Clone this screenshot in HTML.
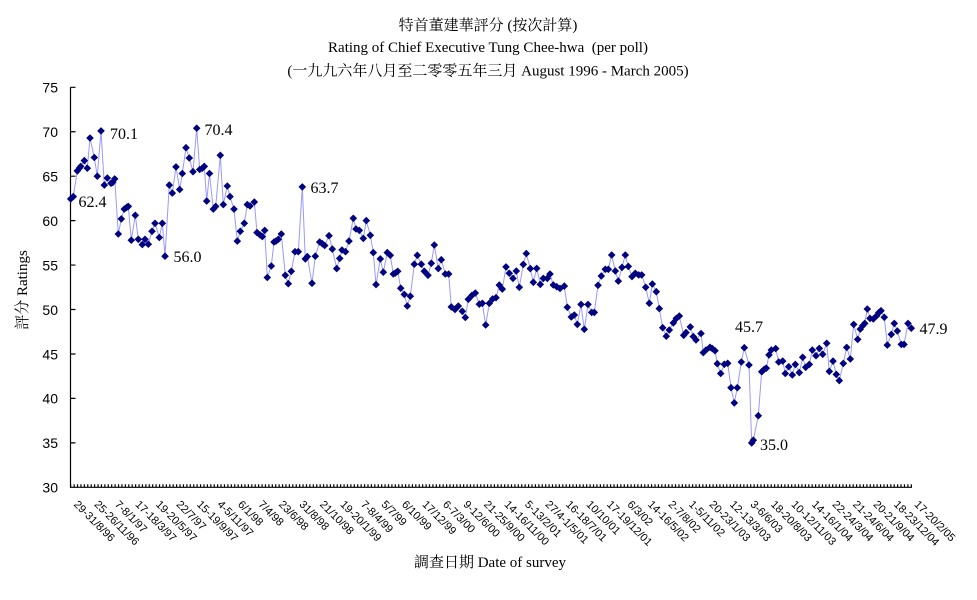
<!DOCTYPE html>
<html>
<head>
<meta charset="utf-8">
<style>
html,body{margin:0;padding:0;background:#fff;}
body{width:977px;height:600px;overflow:hidden;}
svg{display:block;}
.serif{font-family:"Liberation Serif","Noto Serif CJK SC",serif;}
.sans{font-family:"Liberation Sans","Noto Sans CJK TC",sans-serif;}
</style>
</head>
<body>
<svg id="chart" width="977" height="600" viewBox="0 0 977 600" xmlns="http://www.w3.org/2000/svg">
  <rect x="0" y="0" width="977" height="600" fill="#fff"/>
  <!-- titles -->
  <text class="serif" x="488" y="30" font-size="15" text-anchor="middle" fill="#000">特首董建華評分 (按次計算)</text>
  <text class="serif" x="488" y="52" font-size="15" text-anchor="middle" fill="#000">Rating of Chief Executive Tung Chee-hwa&#160; (per poll)</text>
  <text class="serif" x="488" y="75.5" font-size="15" text-anchor="middle" fill="#000">(一九九六年八月至二零零五年三月 August 1996 - March 2005)</text>

  <!-- y axis title -->
  <text class="serif" transform="translate(27,290) rotate(-90)" font-size="15" text-anchor="middle" fill="#000">評分 Ratings</text>
  <!-- x axis title -->
  <text class="serif" x="490" y="567" font-size="15" text-anchor="middle" fill="#000">調查日期 Date of survey</text>

  <!-- y tick labels -->
  <g class="sans" font-size="14" text-anchor="end" fill="#000">
    <text x="58" y="92.6">75</text>
    <text x="58" y="137.0">70</text>
    <text x="58" y="181.5">65</text>
    <text x="58" y="225.9">60</text>
    <text x="58" y="270.4">55</text>
    <text x="58" y="314.8">50</text>
    <text x="58" y="359.3">45</text>
    <text x="58" y="403.7">40</text>
    <text x="58" y="448.2">35</text>
    <text x="58" y="492.6">30</text>
  </g>

  <g id="axes" stroke="#000" fill="none"></g>
  <g id="series"></g>
  <g id="xlabels" class="sans" font-size="11" fill="#000"></g>

  <!-- data labels -->
  <g class="serif" font-size="16" fill="#000">
    <text x="78.5" y="207">62.4</text>
    <text x="110" y="139">70.1</text>
    <text x="173.5" y="262">56.0</text>
    <text x="204.5" y="135">70.4</text>
    <text x="310.5" y="193">63.7</text>
    <text x="735" y="332">45.7</text>
    <text x="760" y="450">35.0</text>
    <text x="919.5" y="334">47.9</text>
  </g>
</svg>
<script>
(function(){
  var NS="http://www.w3.org/2000/svg";
  function Y(v){return 87.3+(75-v)*8.8889;}
  var axes=document.getElementById('axes');
  // y axis
  var d="M70.5 87.3 L70.5 487.8 M70 487.3 L912 487.3";
  for(var t=30;t<=75;t+=5){var yy=Y(t);d+=" M70.5 "+yy.toFixed(2)+" L75.5 "+yy.toFixed(2);}
  var sp=(911.3-70.7)/246;
  for(var i=0;i<=246;i++){var xx=70.7+i*sp;d+=" M"+xx.toFixed(2)+" 487.3 L"+xx.toFixed(2)+" 484.3";}
  var p=document.createElementNS(NS,'path');p.setAttribute('d',d);p.setAttribute('stroke-width','1.2');axes.appendChild(p);

  var data=[
[70.7,62.45],[73.3,62.7],[77.3,65.6],[79.3,65.9],[80.7,66.1],[84.3,66.75],[87.3,65.9],[90,69.3],[94.3,67.1],[97.3,65.0],
[101,70.1],[104.3,64.0],[107.3,64.8],[111,64.2],[112.7,64.3],[114.7,64.7],[118.3,58.5],[121.3,60.2],[124.3,61.3],[126.7,61.5],
[128.3,61.6],[131.3,57.8],[135.3,60.6],[138.3,57.9],[142.3,57.3],[145,57.9],[148.3,57.35],[152,58.8],[155,59.7],[159.3,58.1],
[162.3,59.7],[165,56.0],[169.3,64.0],[172.3,63.1],[176,66.05],[179.7,63.5],[182.3,65.3],[186,68.2],[189.3,67.05],[193,65.5],
[196.7,70.4],[199.7,65.75],[202.3,65.9],[204.3,66.1],[206.7,62.2],[209.5,65.3],[213.3,61.3],[215.7,61.6],[220.3,67.35],[223.3,61.8],
[227.3,63.9],[230,62.7],[234,61.3],[237.3,57.7],[240.3,58.8],[244.3,59.7],[247.3,61.8],[250,61.65],[254.3,62.1],[257,58.65],
[260,58.4],[262.3,58.2],[264.7,58.9],[267.3,53.6],[271.3,54.9],[274,57.6],[276,57.7],[278.3,57.9],[281.3,58.5],[285.3,53.85],
[288.3,52.9],[291.3,54.3],[295,56.5],[298.3,56.5],[302.3,63.8],[305.3,55.7],[307.3,55.95],[312,52.95],[315.3,56.0],[319.7,57.6],
[322.3,57.4],[324.7,57.2],[329,58.3],[332.3,56.8],[336.7,54.6],[339.7,55.75],[342,56.7],[345.5,56.5],[349,57.7],[353.3,60.26],
[356,59.06],[359.3,58.9],[363.3,58.0],[366.3,60.0],[370.3,58.35],[373.3,56.4],[376,52.8],[380.3,55.7],[383.3,54.2],[387.3,56.4],
[390.3,56.1],[393.3,54.0],[395.3,54.1],[397.7,54.3],[400.7,52.4],[404.3,51.7],[407.3,50.4],[410.3,51.5],[414.3,55.1],[417.3,56.1],
[421.3,55.1],[424.3,54.3],[428,53.85],[431.3,55.2],[434.3,57.26],[438.3,54.6],[441.3,55.6],[445.3,54.0],[448.7,54.0],[451.3,50.3],
[455,50.0],[458.3,50.4],[462.3,49.8],[465.3,49.1],[468.3,51.15],[472,51.6],[475.3,51.86],[479.3,50.6],[482.3,50.7],[485.7,48.26],
[489.3,50.7],[492.7,51.2],[496,51.33],[499.3,52.75],[502.3,52.3],[506,54.8],[509.3,54.07],[513,53.5],[516.3,54.33],[519.3,52.5],
[523.3,55.08],[526.3,56.3],[530.3,54.6],[533.3,53.06],[536.7,54.63],[540.3,52.83],[543.3,53.5],[547.3,53.5],[550,54.0],[553.3,52.76],
[556.7,52.57],[560,52.38],[564.3,52.64],[567.3,50.25],[571.3,49.16],[574.3,49.38],[577.3,48.33],[581,50.58],[584.3,47.77],[588,50.58],
[591.7,49.68],[594.3,49.68],[598,52.72],[601.3,53.77],[605.3,54.52],[608.3,54.52],[611.7,56.13],[615.3,54.33],[618.3,53.2],[622,54.74],
[625.3,56.13],[628.3,54.85],[632,53.7],[635.3,54.07],[638.7,53.9],[641.7,53.9],[645.7,52.5],[649.3,50.7],[652.3,52.87],[656.3,52.0],
[659.3,50.1],[662.7,47.96],[666.3,47.0],[669.3,47.7],[673.3,48.5],[676.3,49.0],[679.3,49.27],[683.7,47.1],[686,47.4],[690.3,48.04],
[693.3,46.95],[696,46.57],[701,47.3],[703.3,45.15],[706,45.45],[710,45.75],[712.3,45.6],[715,45.37],[717.3,43.9],[720.7,42.8],
[724.3,43.84],[727.7,43.95],[731,41.2],[734.3,39.5],[737.3,41.2],[741.3,44.1],[744.3,45.7],[749,43.76],[751.7,35.0],[753.3,35.3],
[758.3,38.06],[761.7,43.0],[764.3,43.27],[766.3,43.4],[769,44.9],[771.3,45.45],[775.7,45.6],[778.7,44.1],[782.7,44.2],[785.3,42.8],
[788.7,43.57],[792.3,42.63],[795.3,43.83],[799.3,42.9],[802.7,44.62],[805.7,43.5],[809.3,43.83],[812.3,45.44],[816,44.8],[819.3,45.63],
[822.7,44.96],[826.7,46.2],[829.3,43.04],[833,44.2],[836.3,42.7],[839.3,42.0],[843.3,43.94],[846.7,45.74],[850.3,44.43],[853.7,48.33],
[857.7,46.64],[860.3,47.8],[862.7,48.18],[864.7,48.44],[867.3,50.06],[870,49.0],[873.3,48.93],[876.7,49.3],[878.7,49.64],[881,49.87],
[884.3,49.12],[887.3,46.0],[891.3,47.2],[894.3,48.44],[897.3,47.58],[901.3,46.08],[904,46.08],[908,48.44],[911.3,47.9]
  ];
  var series=document.getElementById('series');
  var pts=data.map(function(a){return a[0].toFixed(1)+","+Y(a[1]).toFixed(1);}).join(" ");
  var pl=document.createElementNS(NS,'polyline');
  pl.setAttribute('points',pts);pl.setAttribute('fill','none');pl.setAttribute('stroke','#9999FF');pl.setAttribute('stroke-width','1');
  series.appendChild(pl);
  var md="";
  data.forEach(function(a){var x=a[0],y=Y(a[1]);md+="M"+x.toFixed(1)+" "+(y-3.8).toFixed(1)+" L"+(x+3.8).toFixed(1)+" "+y.toFixed(1)+" L"+x.toFixed(1)+" "+(y+3.8).toFixed(1)+" L"+(x-3.8).toFixed(1)+" "+y.toFixed(1)+" Z ";});
  var mk=document.createElementNS(NS,'path');mk.setAttribute('d',md);mk.setAttribute('fill','#000080');
  series.appendChild(mk);

  var labels=["29-31/8/96","25-26/11/96","7-8/1/97","17-18/3/97","19-20/5/97","22/7/97","15-19/9/97","4-5/11/97","6/1/98","7/4/98",
  "23/6/98","31/8/98","21/10/98","19-20/1/99","7-8/4/99","5/7/99","6/10/99","17/12/99","6-7/3/00","9-12/6/00",
  "21-25/9/00","14-16/11/00","5-13/2/01","27/4-1/5/01","16-18/7/01","10/10/01","17-19/12/01","6/3/02","14-16/5/02","2-7/8/02",
  "1-5/11/02","20-23/1/03","12-13/3/03","3-6/6/03","18-20/8/03","10-12/11/03","14-16/1/04","22-24/3/04","21-24/6/04","20-21/9/04",
  "18-23/12/04","17-20/2/05"];
  var xl=document.getElementById('xlabels');
  labels.forEach(function(s,i){
    var x=70.7+i*6*sp+2.5, y=505;
    var t=document.createElementNS(NS,'text');
    t.setAttribute('transform','translate('+x.toFixed(1)+','+y+') rotate(45)');
    t.textContent=s;xl.appendChild(t);
  });
})();
</script>
</body>
</html>
